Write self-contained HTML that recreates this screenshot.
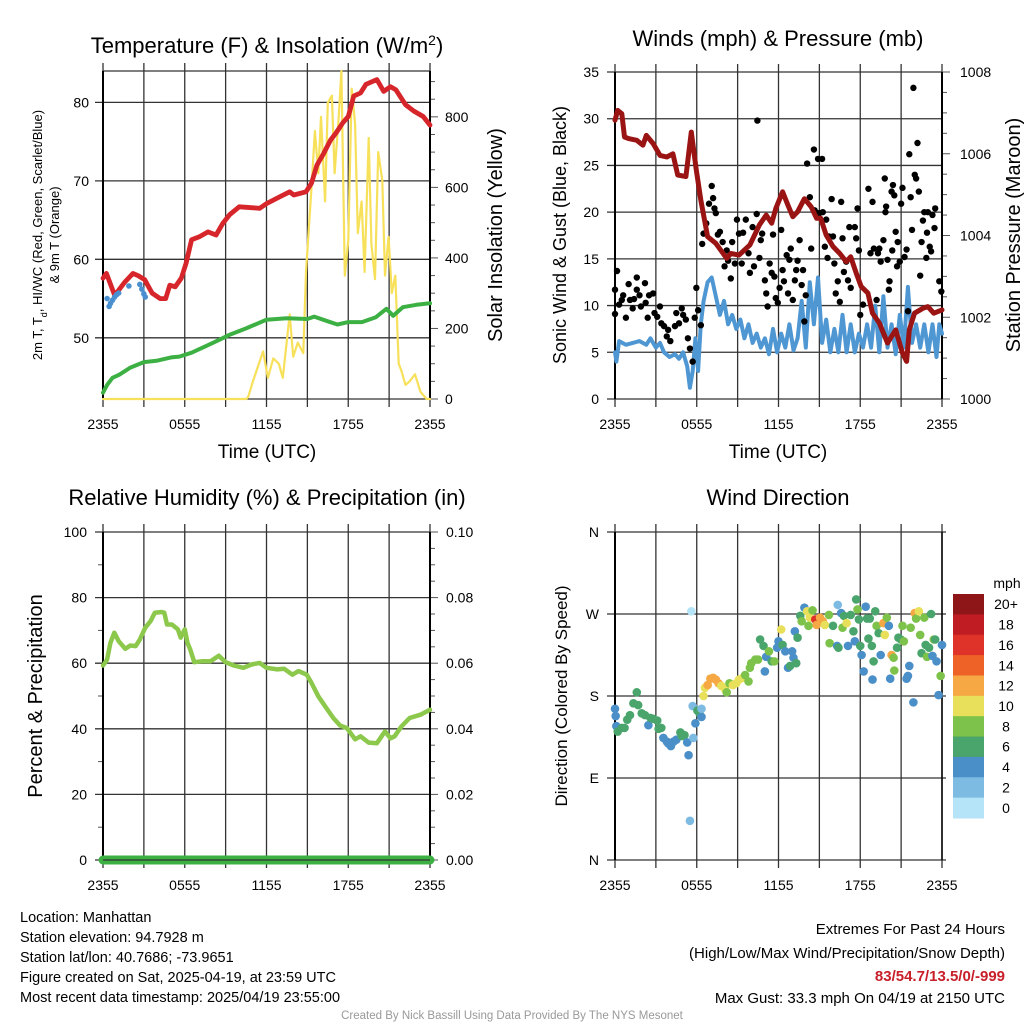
<!DOCTYPE html>
<html><head><meta charset="utf-8"><style>
body{margin:0;background:#fff}
svg{display:block;font-family:"Liberation Sans",Arial,sans-serif}
</style></head><body>
<svg id="c" width="1024" height="1024" viewBox="0 0 1024 1024"></svg>
<script>
// ---------- data ----------
const tickLabels=["2355","0555","1155","1755","2355"];
const tempH=[0,0.25,0.86,1.6,2.2,2.6,3.06,3.6,4.2,4.6,4.9,5.3,5.75,6.1,6.5,7.1,7.7,8.3,8.8,9.3,10.0,11.5,12.0,13.0,13.7,14.0,14.9,15.3,15.7,16.2,16.7,17.1,17.6,18.0,18.4,18.9,19.3,20.1,20.6,21.1,21.5,22.2,22.8,23.5,24];
const tempV=[57.6,58.2,55.4,57.1,58.2,57.9,57.4,55.7,55.0,55.0,56.7,56.5,57.6,59.5,62.5,62.9,63.5,63.1,64.6,65.7,66.7,66.5,67.1,68.0,68.6,68.2,68.6,69.7,72.0,73.5,75.2,76.1,77.4,78.2,80.8,81.2,82.3,82.9,81.4,82.0,81.6,79.7,78.9,78.2,77.1];
const dewH=[0,0.3,0.7,1.2,2,3,4,5,5.6,6.5,7.5,8.5,9.3,10.5,12,13.5,15,15.5,16.5,17.2,18,19,20,20.8,21.3,22,23,24];
const dewV=[43.0,44.0,44.9,45.3,46.2,46.9,47.1,47.5,47.6,48.1,48.9,49.7,50.4,51.2,52.3,52.5,52.4,52.7,52.1,51.7,52.0,52.0,52.6,53.7,52.8,53.9,54.2,54.4];
const hiH=[0.3,0.45,0.55,0.7,0.85,1.0,1.15,1.9,2.7,2.85,3.0,3.1];
const hiV=[55.0,54.0,54.4,54.8,55.2,55.5,55.7,56.6,56.8,56.2,55.6,55.2];
const solH=[0,10.5,10.65,11.0,11.75,12.1,12.5,12.9,13.2,13.7,13.96,14.3,14.7,14.9,15.3,15.55,15.8,16.0,16.3,16.5,16.8,17.0,17.3,17.5,17.75,18.0,18.25,18.5,18.7,18.98,19.2,19.5,19.7,19.96,20.2,20.5,20.7,20.96,21.2,21.45,21.7,21.9,22.2,22.5,22.9,23.3,23.75,24];
const solV=[0,0,5,50,135,60,115,100,60,240,120,160,130,360,600,760,640,800,560,840,860,640,800,930,350,450,880,780,470,560,360,740,440,340,700,620,350,460,300,350,100,80,40,50,70,20,0,0];
const presH=[0,0.2,0.5,0.7,1.0,1.6,2.05,2.3,2.8,3.3,3.8,4.25,4.6,5.2,5.6,5.97,6.3,6.8,7.4,8.2,8.5,9.1,9.9,10.6,11.1,11.5,11.8,12.3,12.7,13.05,13.4,13.9,14.4,14.8,15.1,15.5,16.0,16.5,16.97,17.3,17.7,18.07,18.56,18.9,19.4,20.0,20.6,21.1,21.4,21.6,21.98,22.6,22.96,23.4,24];
const presV=[1006.82,1007.06,1006.98,1006.41,1006.37,1006.33,1006.21,1006.45,1006.25,1005.96,1005.92,1006.0,1005.48,1005.44,1006.53,1005.6,1004.87,1003.97,1003.81,1003.44,1003.56,1003.52,1003.77,1004.26,1004.5,1004.3,1004.66,1005.07,1004.74,1004.46,1004.58,1004.9,1004.7,1004.42,1004.42,1004.01,1003.73,1003.56,1003.36,1003.48,1003.08,1002.75,1002.59,1002.1,1001.86,1001.37,1001.69,1001.12,1000.92,1001.69,1002.1,1002.22,1002.26,1002.1,1002.18];
const windH=[0,0.1,0.3,0.8,1.3,1.8,2.3,2.6,3.0,3.3,3.6,4.0,4.4,4.7,5.0,5.3,5.5,5.7,5.9,6.1,6.3,6.5,6.8,7.1,7.4,7.7,8.0,8.3,8.6,8.9,9.2,9.5,9.8,10.1,10.4,10.7,11.0,11.3,11.6,11.9,12.2,12.5,12.8,13.1,13.4,13.7,14.0,14.3,14.6,14.9,15.2,15.5,15.8,16.1,16.4,16.7,17.0,17.3,17.6,17.9,18.2,18.5,18.8,19.1,19.4,19.7,20.0,20.3,20.6,20.9,21.2,21.5,21.8,22.1,22.4,22.7,23.0,23.3,23.6,23.8,24];
const windV=[5,4,6.2,5.8,6.0,6.2,5.8,6.5,5.5,6.0,5.0,4.5,4.8,4.3,5.0,3.5,1.2,3.0,6.5,3.0,8.0,10.5,12.5,13.0,11.0,9.0,10.5,8.0,9.0,7.5,8.5,6.5,8.0,6.0,7.0,5.5,6.5,4.8,7.5,5.0,7.0,5.5,8.0,5.2,6.5,10.5,5.5,12.5,8.0,13.0,6.0,8.5,5.0,7.5,5.0,9.0,5.0,8.0,5.0,7.0,5.5,8.0,5.5,10.0,5.0,11.0,5.5,8.0,4.8,9.0,5.5,12.0,6.0,8.0,5.5,8.0,5.0,8.0,4.5,8.0,7.0];
const gustH=[0,0,0.15,0.3,0.5,0.6,0.8,1.0,1.1,1.3,1.4,1.6,1.6,1.8,1.9,2.2,2.25,2.4,2.5,2.8,2.9,3.1,3.3,3.4,3.6,3.8,3.9,4.06,4.4,4.5,4.7,4.9,5.0,5.2,5.35,5.5,5.7,5.85,5.97,6.1,6.3,6.4,6.5,6.7,6.9,7.1,7.2,7.3,7.4,7.55,7.7,7.9,8.04,8.2,8.3,8.5,8.6,8.8,8.95,9.1,9.3,9.4,9.6,9.8,9.9,10.1,10.2,10.4,10.45,10.6,10.7,10.8,11.0,11.1,11.2,11.35,11.5,11.6,11.7,11.8,11.95,12.08,12.2,12.3,12.4,12.6,12.7,12.8,12.9,13.05,13.2,13.3,13.4,13.55,13.7,13.8,13.9,14.0,14.1,14.3,14.4,14.6,14.65,14.8,14.9,15.0,15.2,15.25,15.4,15.5,15.6,15.7,15.9,16.0,16.1,16.2,16.35,16.5,16.6,16.7,16.8,16.97,17.1,17.2,17.3,17.6,17.7,17.8,17.9,18.0,18.2,18.6,18.75,18.9,19.0,19.2,19.3,19.4,19.5,19.7,19.8,19.85,19.9,20.0,20.1,20.15,20.3,20.35,20.4,20.5,20.6,20.7,20.75,20.9,21.0,21.1,21.25,21.4,21.5,21.6,21.7,21.8,21.9,22.0,22.1,22.2,22.3,22.4,22.5,22.6,22.7,22.85,22.9,22.96,23.1,23.2,23.3,23.45,23.5,23.8,23.95];
const gustV=[11.7,9.1,13.7,10.1,10.6,11.1,8.7,12.3,10.6,9.7,10.7,13.0,11.7,11.1,9.9,12.4,10.3,8.7,11.1,11.3,9.2,8.8,9.9,8.1,7.8,6.7,7.4,6.2,7.8,9.2,8.1,9.7,9.0,8.5,6.5,5.4,4.0,8.7,11.9,9.5,7.9,16.6,17.7,18.8,20.9,22.8,21.5,20.4,19.9,17.6,17.9,16.8,14.2,15.9,14.8,12.9,16.8,14.5,19.2,17.7,14.5,17.8,19.2,15.6,13.5,18.4,14.2,19.8,29.8,15.1,17.0,17.7,12.7,11.3,9.9,14.5,13.5,17.6,13.1,10.8,10.3,11.9,18.1,13.8,12.6,15.4,11.3,14.9,16.1,10.6,12.7,13.8,14.8,17.0,12.2,13.8,8.3,11.1,25.2,21.6,16.1,26.7,20.2,19.9,25.7,19.9,25.7,20.0,16.3,19.2,15.1,17.4,21.4,17.4,14.5,11.3,12.6,10.4,21.1,17.2,13.6,14.7,12.7,18.4,11.9,18.4,17.2,20.4,15.9,9.0,10.1,22.5,15.6,21.1,16.1,10.6,15.6,16.1,14.7,17.0,23.6,20.0,20.6,14.9,11.7,12.6,22.2,15.9,22.9,21.8,17.9,14.2,16.8,14.7,20.9,22.6,15.2,16.0,9.4,26.2,21.6,18.1,33.3,24.0,23.6,27.4,22.2,13.2,16.8,19.1,20.0,15.1,17.8,20.0,16.3,15.8,19.7,18.3,20.4,12.6,11.5];
const rhH=[0,0.3,0.54,0.83,1.15,1.64,2.0,2.4,2.7,3.1,3.5,3.8,4.3,4.5,4.7,5.06,5.5,5.7,6.0,6.2,6.4,6.7,7.3,7.9,8.5,9.0,9.6,10.3,10.9,11.5,12.0,12.8,13.3,13.9,14.35,14.96,15.3,15.8,16.4,16.9,17.4,17.9,18.5,18.9,19.5,20.1,20.7,21.1,21.4,21.9,22.5,23.3,24];
const rhV=[59.3,61.1,66.2,69.3,66.7,64.4,65.4,65.2,67.2,70.8,72.9,75.4,75.6,75.4,71.8,71.8,70.3,67.8,70.3,66.2,64.2,60.3,60.6,60.6,62.3,60.3,59.3,58.6,59.6,60.1,58.6,58.1,58.3,56.5,57.6,56.5,54.0,49.9,46.3,43.3,41.0,40.2,36.8,37.7,35.8,35.6,39.2,37.1,37.7,40.7,43.3,44.3,45.8];
const precipH=[0,24];
const precipV=[0,0];
const dirH=[0,0.05,0.1,0.2,0.5,0.7,0.9,1.1,1.35,1.6,1.7,1.96,2.2,2.45,2.6,2.8,3.1,3.2,3.4,3.55,3.8,3.9,4.1,4.3,4.5,4.8,4.9,5.1,5.3,5.4,5.5,5.6,5.75,5.7,5.9,6.05,6.2,6.35,6.35,6.5,6.6,6.8,7.0,7.2,7.4,7.6,7.8,8.1,8.2,8.4,8.65,8.9,9.1,9.4,9.55,9.8,9.9,10.0,10.3,10.5,10.65,10.9,11.0,11.1,11.3,11.5,11.7,11.9,12.0,12.2,12.3,12.5,12.7,12.85,13.0,13.1,13.3,13.2,13.4,13.6,13.7,13.9,14.1,14.2,14.3,14.5,14.7,14.8,15.05,15.25,15.4,15.7,15.75,16.0,16.35,16.3,16.4,16.6,16.7,16.8,17.0,17.1,17.3,17.5,17.6,17.7,17.8,17.9,18.0,18.1,18.25,18.4,18.5,18.6,18.7,18.85,18.98,18.9,19.1,19.2,19.35,19.5,19.7,19.8,19.95,20.1,20.2,20.3,20.45,20.5,20.7,20.8,20.98,21.1,21.2,21.4,21.5,21.6,21.7,21.9,22.0,22.1,22.3,22.4,22.5,22.7,22.8,22.9,23.05,23.2,23.3,23.4,23.5,23.6,23.75,23.9,24];
const dirV=[166,158,147,141,145,145,154,159,172,184,170,161,159,148,156,155,153,144,145,134,130,128,125,130,132,140,136,137,129,115,43,273,134,169,150,164,161,157,166,180,189,192,199,200,198,194,191,187,184,194,192,194,198,200,203,196,211,216,220,220,242,235,207,223,229,218,218,233,240,253,236,229,211,213,229,222,216,251,244,268,262,277,273,257,266,274,264,258,266,262,258,269,238,257,280,235,233,271,255,268,260,235,269,251,240,286,275,264,235,225,207,278,265,243,265,235,218,198,273,257,249,225,260,247,266,257,199,225,222,208,233,244,242,257,240,199,202,213,255,173,271,265,273,247,227,266,236,223,233,270,224,242,242,218,181,202,236];
const dirS=[4,4,4,6,6,6,6,6,6,6,6,6,6,4,6,6,6,6,6,4,4,4,4,4,4,6,6,6,4,4,2,0,2,2,4,6,6,4,2,10,10,12,12,12,12,12,10,10,8,8,10,10,10,10,8,8,8,8,8,8,6,6,4,4,8,6,8,4,4,10,6,4,4,6,4,4,6,4,6,6,8,4,10,8,10,8,16,12,12,12,10,8,8,6,2,4,6,4,8,6,10,4,6,6,4,6,8,6,6,4,4,4,6,6,6,6,6,4,6,8,6,4,12,10,8,4,4,12,8,8,6,6,6,8,8,4,4,4,8,4,12,8,10,8,6,8,6,8,6,6,4,8,6,4,4,8,4];
const cbLabels=["20+","18","16","14","12","10","8","6","4","2","0"];
const cbColors=["#8e1518","#bf1c24","#df3228","#ee6228","#f5a843","#e8e05a","#7dc24a","#4aa56c","#4a8fc8","#7ebbe3","#b5e3f7"];

// ---------- helpers ----------
const NS="http://www.w3.org/2000/svg";
const svg=document.getElementById('c');
function mk(tag,attrs,parent,text){
  const e=document.createElementNS(NS,tag);
  for(const k in attrs)e.setAttribute(k,attrs[k]);
  if(text!==undefined)e.textContent=text;
  (parent||svg).appendChild(e);return e;
}
function grp(name){const g=mk('g',{});return g;}
function scale(d0,d1,r0,r1){return v=>r0+(v-d0)/(d1-d0)*(r1-r0);}
function txt(g,x,y,s,size,anchor,name,extra){
  const t=mk('text',Object.assign({x:x,y:y,'font-size':size,'text-anchor':anchor||'middle',fill:'#000'},extra||{}),g,s);
  
  
  return t;
}
function frame(g,P,yMajL,xLblY){
  for(let h=0;h<=24;h+=3){const x=P.x(h);
    mk('line',{x1:x,x2:x,y1:P.y0-8,y2:P.y1+8,stroke:'#333','stroke-width':1.3},g);}
  tickLabels.forEach((s,i)=>txt(g,P.x(i*6),xLblY,s,14,'middle','x-tick-label'));
}
function poly(g,H,V,X,Y,color,w,name){
  const d=H.map((h,i)=>(i?'L':'M')+X(h).toFixed(1)+' '+Y(V[i]).toFixed(1)).join('');
  const p=mk('path',{d:d,fill:'none',stroke:color,'stroke-width':w,'stroke-linejoin':'round','stroke-linecap':'round'},g);
  
  
  return p;
}
function hline(g,x0,x1,y){mk('line',{x1:x0,x2:x1,y1:y,y2:y,stroke:'#333','stroke-width':1.3},g);}
function tick(g,x,y,len){mk('line',{x1:x,x2:x+len,y1:y,y2:y,stroke:'#555','stroke-width':1},g);}

// ---------- Panel 1 ----------
(function(){
  const g=grp('temperature-panel');
  const P={x0:103,x1:430,y0:71,y1:399};
  P.x=scale(0,24,P.x0,P.x1);
  const yL=scale(42.2,84,P.y1,P.y0), yR=scale(0,930,P.y1,P.y0);
  frame(g,P,null,429);
  [50,60,70,80].forEach(v=>{hline(g,P.x0-8,P.x1,yL(v));txt(g,P.x0-14,yL(v)+5,String(v),14,'end','y-tick-label');});
  for(let v=0;v<=900;v+=50){tick(g,P.x1,yR(v),v%200==0?8:5);}
  [0,200,400,600,800].forEach(v=>txt(g,P.x1+15,yR(v)+5,String(v),14,'start','y2-tick-label'));
  hline(g,P.x0,P.x1,P.y0);hline(g,P.x0,P.x1,P.y1);
  mk('line',{x1:P.x0,x2:P.x0,y1:P.y0,y2:P.y1,stroke:'#000','stroke-width':2},g);
  mk('line',{x1:P.x1,x2:P.x1,y1:P.y0,y2:P.y1,stroke:'#000','stroke-width':2},g);
  poly(g,solH,solV,P.x,yR,'#f7e05a',2.2,'solar-line');
  poly(g,dewH,dewV,P.x,yL,'#3cb043',4,'dewpoint-line');
  poly(g,tempH,tempV,P.x,yL,'#d7262b',4.8,'temperature-line');
  hiH.forEach((h,i)=>{const c=mk('circle',{cx:P.x(h),cy:yL(hiV[i]),r:2.8,fill:'#4a90d0'},g);
    });
  const t=txt(g,267,53,'Temperature (F) & Insolation (W/m',22,'middle','panel-title');
  mk('tspan',{'baseline-shift':'super','font-size':14},t,'2');
  mk('tspan',{},t,')');
  txt(g,267,458,'Time (UTC)',19,'middle','x-axis-title');
  const a=txt(g,0,0,'2m T, T',13,'middle','y-axis-title',{transform:'translate(42,235) rotate(-90)'});
  mk('tspan',{'baseline-shift':'sub','font-size':9},a,'d');
  mk('tspan',{},a,', HI/WC (Red, Green, Scarlet/Blue)');
  txt(g,0,0,'& 9m T (Orange)',13,'middle','y-axis-title-line2',{transform:'translate(59,235) rotate(-90)'});
  txt(g,0,0,'Solar Insolation (Yellow)',20,'middle','y2-axis-title',{transform:'translate(502,235) rotate(-90)'});
})();

// ---------- Panel 2 ----------
(function(){
  const g=grp('winds-panel');
  const P={x0:615,x1:942,y0:72,y1:399};
  P.x=scale(0,24,P.x0,P.x1);
  const yL=scale(0,35,P.y1,P.y0), yR=scale(1000,1008,P.y1,P.y0);
  frame(g,P,null,429);
  for(let v=0;v<=35;v+=5){hline(g,P.x0-8,P.x1,yL(v));txt(g,P.x0-16,yL(v)+5,String(v),14,'end','y-tick-label');}
  for(let v=1000;v<=1008;v+=0.5){tick(g,P.x1,yR(v),v%2==0?8:5);}
  [1000,1002,1004,1006,1008].forEach(v=>txt(g,P.x1+18,yR(v)+5,String(v),14,'start','y2-tick-label'));
  mk('line',{x1:P.x0,x2:P.x0,y1:P.y0,y2:P.y1,stroke:'#000','stroke-width':2},g);
  mk('line',{x1:P.x1,x2:P.x1,y1:P.y0,y2:P.y1,stroke:'#000','stroke-width':2},g);
  poly(g,windH,windV,P.x,yL,'#4f97d3',4,'sonic-wind-line');
  gustH.forEach((h,i)=>{const c=mk('circle',{cx:P.x(h),cy:yL(gustV[i]),r:3.2,fill:'#000'},g);
    });
  poly(g,presH,presV,P.x,yR,'#9b1414',5,'pressure-line');
  txt(g,778,46,'Winds (mph) & Pressure (mb)',22,'middle','panel-title');
  txt(g,778,458,'Time (UTC)',19,'middle','x-axis-title');
  txt(g,0,0,'Sonic Wind & Gust (Blue, Black)',18,'middle','y-axis-title',{transform:'translate(566,235) rotate(-90)'});
  txt(g,0,0,'Station Pressure (Maroon)',20,'middle','y2-axis-title',{transform:'translate(1020,235) rotate(-90)'});
})();

// ---------- Panel 3 ----------
(function(){
  const g=grp('humidity-panel');
  const P={x0:103,x1:430,y0:532,y1:860};
  P.x=scale(0,24,P.x0,P.x1);
  const yL=scale(0,100,P.y1,P.y0), yR=scale(0,0.1,P.y1,P.y0);
  frame(g,P,null,890);
  for(let v=0;v<=100;v+=20){hline(g,P.x0-8,P.x1,yL(v));txt(g,P.x0-16,yL(v)+5,String(v),14,'end','y-tick-label');}
  for(let v=10;v<100;v+=20)tick(g,P.x0-5,yL(v),5);
  for(let v=0;v<=0.1001;v+=0.005){tick(g,P.x1,yR(v),Math.round(v*1000)%20==0?8:5);}
  [0,0.02,0.04,0.06,0.08,0.1].forEach(v=>txt(g,P.x1+16,yR(v)+5,v.toFixed(2),14,'start','y2-tick-label'));
  mk('line',{x1:P.x0,x2:P.x0,y1:P.y0,y2:P.y1,stroke:'#000','stroke-width':2},g);
  mk('line',{x1:P.x1,x2:P.x1,y1:P.y0,y2:P.y1,stroke:'#000','stroke-width':2},g);
  poly(g,rhH,rhV,P.x,yL,'#8cc84b',4.5,'humidity-line');
  poly(g,precipH,precipV,P.x,yR,'#3cb043',9,'precipitation-line');
  hline(g,P.x0,P.x1,P.y1);
  txt(g,267,505,'Relative Humidity (%) & Precipitation (in)',22,'middle','panel-title');
  txt(g,0,0,'Percent & Precipitation',20,'middle','y-axis-title',{transform:'translate(42,696) rotate(-90)'});
})();

// ---------- Panel 4 ----------
(function(){
  const g=grp('wind-direction-panel');
  const P={x0:615,x1:942,y0:532,y1:860};
  P.x=scale(0,24,P.x0,P.x1);
  const yD=scale(0,360,P.y1,P.y0);
  frame(g,P,null,890);
  ["N","E","S","W","N"].forEach((s,i)=>{hline(g,P.x0-8,P.x1+4,yD(i*90));txt(g,P.x0-16,yD(i*90)+5,s,14,'end','y-tick-label');});
  mk('line',{x1:P.x0,x2:P.x0,y1:P.y0,y2:P.y1,stroke:'#000','stroke-width':2},g);
  mk('line',{x1:P.x1,x2:P.x1,y1:P.y0,y2:P.y1,stroke:'#000','stroke-width':1.5},g);
  dirH.forEach((h,i)=>{const idx=Math.min(10,Math.floor(dirS[i]/2));
    const c=mk('circle',{cx:P.x(h),cy:yD(dirV[i]),r:4.3,fill:cbColors[10-idx]},g);
    });
  txt(g,778,505,'Wind Direction',22,'middle','panel-title');
  txt(g,0,0,'Direction (Colored By Speed)',17,'middle','y-axis-title',{transform:'translate(567,696) rotate(-90)'});
  const cb=grp('colorbar');
  const bh=224/11;
  cbColors.forEach((c,i)=>{const r=mk('rect',{x:953,y:594+i*bh,width:31,height:bh+0.5,fill:c},cb);
    
    txt(cb,1006,594+i*bh+bh/2+5,cbLabels[i],14,'middle','colorbar-label');});
  txt(cb,1007,588,'mph',14,'middle','colorbar-title');
})();

// ---------- footer text ----------
(function(){
  const g=grp('station-info');
  ["Location: Manhattan","Station elevation: 94.7928 m","Station lat/lon: 40.7686; -73.9651","Figure created on Sat, 2025-04-19, at 23:59 UTC","Most recent data timestamp: 2025/04/19 23:55:00"]
   .forEach((s,i)=>txt(g,20,922+i*20,s,14.5,'start','info-line'));
  const r=grp('extremes-info');
  txt(r,1005,934,'Extremes For Past 24 Hours',15,'end','extremes-title');
  txt(r,1005,958,'(High/Low/Max Wind/Precipitation/Snow Depth)',15,'end','extremes-subtitle');
  txt(r,1005,981,'83/54.7/13.5/0/-999',15,'end','extremes-values',{fill:'#c8202a','font-weight':'bold'});
  txt(r,1005,1003,'Max Gust: 33.3 mph On 04/19 at 2150 UTC',15,'end','max-gust');
  txt(svg,512,1019,'Created By Nick Bassill Using Data Provided By The NYS Mesonet',11.5,'middle','credit',{fill:'#999'});
})();
</script>
</body></html>
